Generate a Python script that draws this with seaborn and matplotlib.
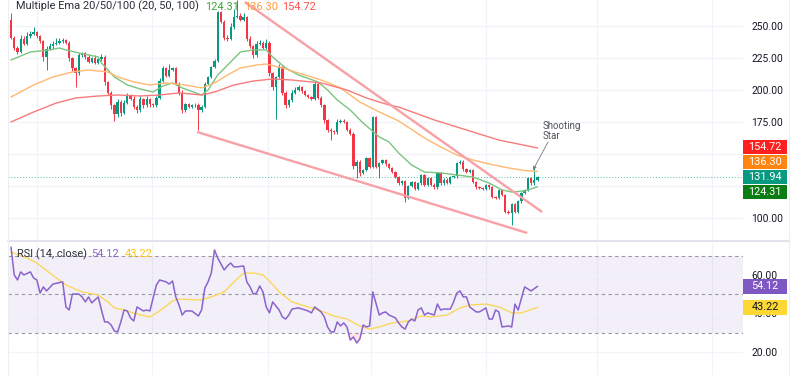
import matplotlib
matplotlib.use("Agg")
import matplotlib.pyplot as plt
from matplotlib.patches import Rectangle
from matplotlib.lines import Line2D
import numpy as np
import pandas as pd
import seaborn as sns

# ---------------- data ----------------
first_open = 255
closes = [
    241, 233, 230, 240, 236, 242, 244, 245, 242, 238,
    226, 232, 234, 236, 237, 238, 239, 237, 225, 217,
    213, 227, 229, 226, 222, 225, 221, 224, 226, 206,
    198, 188, 181, 191, 182, 190, 196, 193, 187, 184,
    193, 188, 193, 189, 188, 194, 207, 217, 211, 216,
    217, 205, 198, 184, 189, 187, 188, 188.5, 184, 187,
    205, 210, 218, 223, 261, 253, 241, 240, 249, 257,
    258, 255, 257, 240, 234, 227, 236, 237, 233, 237,
    213, 202, 210, 218, 198, 188, 192, 198, 200, 202,
    199, 196, 194.5, 193, 205, 194, 188, 176.5, 169, 168,
    167, 175, 176, 175, 169, 166, 141, 144, 135, 137.5,
    147, 140, 179, 140, 143, 145, 142, 139, 136, 132,
    127, 129, 116, 125, 128, 123, 127, 133.6, 126, 131,
    126, 124, 135, 127, 130, 127.5, 132, 132.5, 143, 144,
    138, 136, 137.5, 128, 124, 123.5, 123, 125.5, 124, 116.4,
    116, 122, 118, 105, 104, 111, 104.7, 113, 119.5, 122,
    131, 127, 129.7, 131.94,
]
wick_up = [
    5, 1, 1, 3, 2, 3, 2, 4, 1, 1,
    1, 2, 3, 2, 4, 3, 2, 1, 1, 1,
    1, 2, 1, 1, 2, 1, 2, 1, 2, 1,
    1, 1, 1, 2, 1, 2, 2, 1, 2, 1,
    2, 1, 2, 1, 1, 1, 2, 2, 1, 4,
    1, 1, 1, 2, 1, 1, 1, 1, 1, 1,
    1, 1, 1, 1, 1, 1, 2, 2, 3, 6,
    12, 2, 3, 1, 2, 1, 2, 2, 1, 3,
    1, 1, 1, 2, 1, 1, 1, 2, 2, 2,
    1, 1, 1, 1, 2, 1, 1, 1, 1, 1,
    1, 2, 1, 1, 1, 1, 1, 1, 1, 1,
    1, 1, 1, 1, 1, 1, 1, 1, 1, 1,
    1, 1, 1, 1, 1, 1, 1, 1, 1, 1,
    1, 1, 1, 1, 1, 1, 1, 1, 1, 1,
    1, 1, 1, 1, 1, 1, 1, 1, 1, 1,
    1, 1, 1, 1, 1, 1, 1, 1, 1, 1,
    1, 1, 9.3, 1,
]
wick_dn = [
    1, 2, 2, 1, 1, 1, 1, 1, 1, 1,
    3, 10, 1, 2, 1, 1, 1, 1, 2, 2,
    11, 1, 1, 2, 1, 1, 1, 1, 1, 2,
    2, 3, 5, 2, 2, 1, 1, 1, 2, 2,
    1, 2, 1, 2, 1, 1, 1, 1, 1, 1,
    1, 1, 2, 2, 1, 1, 1, 1, 15, 1,
    1, 1, 1, 1, 1, 1, 2, 2, 1, 1,
    1, 1, 1, 2, 1, 2, 1, 1, 1, 1,
    2, 2, 25, 1, 2, 2, 1, 1, 1, 1,
    1, 1, 1, 1, 1, 1, 1, 2, 2, 7,
    1, 1, 1, 1, 1, 1, 3, 10, 2, 1,
    1, 1, 1, 1, 9, 1, 1, 1, 1, 1,
    1, 1, 3.5, 1, 1, 1, 1, 1, 1, 1,
    1, 1, 1, 1, 1, 1, 1, 1, 1, 1,
    1, 1, 1, 1, 1, 1, 1, 1, 1, 1,
    1, 1, 1, 1, 1, 9.5, 1, 1, 1, 1,
    1, 1, 1, 1,
]

ema20_idx = [0, 6, 12, 15, 17, 21, 27, 28, 32, 36, 40, 44, 47, 50, 53, 59, 61, 64, 68, 71, 75, 79,
             81, 85, 89, 95, 98, 101, 105, 109, 114, 117, 120, 124, 128, 133, 138, 143, 148, 152,
             155, 159, 163]
ema20_val = [223.4, 229.7, 231.3, 232.8, 231.3, 228.9, 225.8, 221.1, 210.2, 203.9, 200.8, 198.4,
             203.1, 205.5, 201.6, 196.1, 200, 211.7, 221.9, 229.7, 231.3, 231.3, 225.8, 217.2,
             211.7, 206.3, 200, 192.2, 184.4, 174.2, 163.3, 159.4, 150.8, 141.4, 135.9, 135.2,
             133.6, 132, 127.3, 121.9, 120.3, 121.1, 124.31]
ema50_idx = [0, 7, 13, 19, 24, 30, 33, 38, 43, 48, 54, 59, 63, 67, 71, 76, 79, 84, 89, 96, 102,
             108, 114, 120, 128, 133, 138, 143, 148, 154, 159, 163]
ema50_val = [194.5, 203.9, 210.2, 214.1, 215.6, 214.1, 210.2, 206.3, 203.9, 205.5, 203.9, 201.6,
             205.5, 211.7, 217.2, 219.5, 220.3, 217.2, 213.3, 207.8, 201.6, 190.6, 182.8, 175.8,
             162.5, 155.5, 149.2, 145.3, 142.2, 139.1, 137.1, 136.3]
ema100_idx = [0, 7, 14, 20, 27, 33, 40, 46, 52, 59, 63, 69, 75, 81, 87, 96, 104, 110, 117, 120,
              131, 136, 141, 151, 163]
ema100_val = [175, 182.8, 189.8, 193.75, 195.3, 196.1, 195.3, 196.1, 197.7, 196.1, 198.4, 203.9,
              207, 208.6, 207.8, 205.5, 200, 193.75, 188.3, 186.7, 176.6, 172.7, 168.75, 160.9,
              154.72]

rsi_idx = [0, 1, 2, 3, 4, 6, 7, 8, 9, 10,
           11, 13, 16, 17, 18, 19, 21, 22, 23, 24,
           25, 27, 28, 29, 30, 31, 32, 33, 34, 35,
           36, 37, 38, 39, 41, 42, 43, 44, 45, 46,
           48, 49, 50, 51, 52, 53, 54, 56, 58, 59,
           60, 61, 62, 63, 64, 66, 67, 68, 69, 70,
           72, 73, 74, 75, 76, 77, 78, 79, 80, 81,
           83, 84, 85, 86, 87, 89, 92, 93, 94, 96,
           97, 98, 99, 100, 101, 102, 103, 104, 105, 106,
           107, 108, 109, 110, 111, 112, 114, 115, 116, 117,
           119, 120, 121, 122, 123, 124, 125, 126, 127, 128,
           129, 131, 132, 133, 134, 136, 137, 138, 139, 140,
           141, 142, 144, 145, 146, 147, 148, 149, 150, 151,
           152, 154, 155, 156, 157, 159, 161, 163]
rsi_val = [74.5, 60, 57.4, 61.6, 60, 61.6, 58.4, 57.4, 50.6, 53.8,
           51.7, 55.3, 56.4, 43.4, 41.8, 50.1, 50.1, 48.6, 46, 48.6,
           45.5, 48.6, 41.8, 35.6, 35.6, 34, 30.9, 30.4, 35.6, 41.8,
           41.3, 37.7, 36.1, 43.4, 41.3, 41.8, 41.3, 48.1, 54.8, 57.4,
           56.4, 55.3, 56.9, 48.6, 44.4, 39.2, 41.3, 41.3, 38.7, 41.8,
           53.2, 56.4, 61, 73, 68.8, 62.6, 64.7, 66.2, 64.2, 64.2,
           64.7, 56.4, 53.8, 50.1, 50.6, 54.3, 51.2, 43.4, 40.3, 46,
           41.8, 38.2, 37.1, 39.2, 42.3, 42.9, 41.3, 40.3, 43.4, 40.8,
           38.2, 33, 30.4, 30.4, 35.6, 33.5, 35.1, 33, 26.2, 27.8,
           24.7, 26.8, 34, 33, 33.5, 51.2, 39.2, 40.3, 40.8, 39.2,
           37.7, 35.1, 33, 31.9, 35.6, 37.1, 36.1, 41.8, 42.9, 39.2,
           40.3, 39.2, 44.9, 41.8, 42.3, 42.3, 46, 50.6, 51.7, 48.6,
           48.6, 43.4, 40.8, 40.8, 41.8, 42.9, 37.1, 37.1, 41.8, 40.8,
           33, 33.5, 33, 44.9, 41.8, 53.8, 51.7, 54.12]
rsima_idx = [0, 5, 8, 12, 17, 22, 27, 30, 32, 35,
             39, 43, 46, 50, 52, 59, 62, 66, 69, 72,
             75, 78, 80, 83, 87, 92, 96, 100, 104, 108,
             111, 114, 118, 123, 127, 130, 135, 139, 142, 147,
             151, 155, 158, 163]
rsima_val = [71.9, 68.8, 66.2, 61, 54.8, 51.2, 49.6, 46, 42.9, 41.8,
             39.7, 38.2, 41.3, 46.5, 47.5, 47, 48.6, 51.2, 56.4, 61,
             61, 60, 56.9, 51.2, 46, 43.4, 41.3, 38.7, 37.1, 33.5,
             31.9, 33, 35.1, 36.1, 38.7, 38.2, 39.2, 42.9, 44.4, 44.9,
             43.4, 40.3, 40.3, 43.22]

upper_trend_idx = [72.4, 164.4]
upper_trend_val = [268.75, 104.7]
lower_trend_idx = [57.6, 159.8]
lower_trend_val = [167.2, 88.3]

month_lines = [8, 43.7, 79.6, 111.5, 147, 181.4, 217]
price_ticks = [250, 225, 200, 175, 100]
price_grid = [250, 225, 200, 175, 150, 125, 100]
rsi_ticks = [60, 40, 20]
rsi_bands = [70, 50, 30]

ema_labels = ["124.31", "136.30", "154.72"]
rsi_labels = ["54.12", "43.22"]

# ---------------- style ----------------
UP, DN = "#089981", "#f23645"
C20, C50, C100 = "#7cc47f", "#ffb870", "#f77b7b"
TXT = "#131722"
GRID = "#f0f3fa"

sns.set_theme(style="white")
plt.rcParams['font.family'] = ['Roboto', 'DejaVu Sans']

W, H, DPI = 800, 380, 100
fig = plt.figure(figsize=(W / DPI, H / DPI), dpi=DPI)
fig.patch.set_facecolor("white")


def fx(px):
    return px / W


def fy(py):
    return 1 - py / H


L, R = 8, 743
ax1 = fig.add_axes([fx(L), fy(240), fx(R) - fx(L), fy(0) - fy(240)])
ax2 = fig.add_axes([fx(L), fy(375), fx(R) - fx(L), fy(243) - fy(375)])
for ax in (ax1, ax2):
    ax.set_facecolor("white")
    for s in ax.spines.values():
        s.set_visible(False)
    ax.set_xlim(-0.93, 226.6)
    ax.set_xticks([])
    ax.yaxis.tick_right()
    ax.tick_params(axis="y", length=0, pad=6, labelsize=7.4, labelcolor=TXT)
    for m in month_lines:
        ax.axvline(m, color=GRID, lw=0.9, zorder=0)

ax1.set_ylim(82.8, 270.3)
ax2.set_ylim(8.05, 76.6)

# ---------- candles ----------
n = len(closes)
opens = [first_open] + closes[:-1]
df = pd.DataFrame({"i": np.arange(n), "open": opens, "close": closes,
                   "wu": wick_up, "wd": wick_dn})
df["top"] = df[["open", "close"]].max(axis=1)
df["bot"] = df[["open", "close"]].min(axis=1)
df["high"] = df["top"] + df["wu"]
df["low"] = df["bot"] - df["wd"]
cols = np.where(df["close"] >= df["open"], UP, DN)

for p in price_grid:
    ax1.axhline(p, color=GRID, lw=0.9, zorder=0)

ax1.vlines(df["i"], df["low"], df["high"], colors=cols, linewidth=0.7, zorder=3)
ax1.bar(df["i"], (df["top"] - df["bot"]).clip(lower=0.5), bottom=df["bot"], width=0.72,
        color=cols, linewidth=0, zorder=4)

sns.lineplot(x=ema20_idx, y=ema20_val, ax=ax1, color=C20, linewidth=1.0, zorder=5)
sns.lineplot(x=ema50_idx, y=ema50_val, ax=ax1, color=C50, linewidth=1.0, zorder=5)
sns.lineplot(x=ema100_idx, y=ema100_val, ax=ax1, color=C100, linewidth=1.0, zorder=5)

ax1.plot(upper_trend_idx, upper_trend_val, color="#f7a1a6", lw=1.7, zorder=6,
         solid_capstyle="butt")
ax1.plot(lower_trend_idx, lower_trend_val, color="#f7a1a6", lw=1.7, zorder=6,
         solid_capstyle="butt")

ax1.axhline(closes[-1], color=UP, lw=0.7, ls=(0, (1, 2)), alpha=0.7, zorder=2)

ax1.set_yticks(price_ticks)
ax1.set_yticklabels([f"{v:.2f}" for v in price_ticks])
ax1.set_ylabel("")

# shooting star annotation
ax1.annotate("", xy=(161.6, 137.5), xytext=(548, H - 142), textcoords="figure pixels",
             arrowprops=dict(arrowstyle="-|>", color="#787b86", lw=0.6,
                             mutation_scale=5, shrinkA=0, shrinkB=0), zorder=7)
fig.text(fx(543), fy(121), "Shooting\nStar", fontsize=7, color="#50535e",
         va="top", ha="left", linespacing=1.05)

# ---------- RSI ----------
ax2.axhspan(rsi_bands[2], rsi_bands[0], color="#7e57c2", alpha=0.09, lw=0, zorder=0)
for g in rsi_ticks:
    ax2.axhline(g, color=GRID, lw=0.9, zorder=0.5)
for b in rsi_bands:
    ax2.axhline(b, color="#9598a1", lw=0.8, ls=(0, (3, 3)), zorder=1)
ri = np.array(rsi_idx, dtype=float)
rv = np.array(rsi_val)
ax2.fill_between(ri, rv, rsi_bands[2], where=rv < rsi_bands[2], interpolate=True,
                 color="#f23645", alpha=0.12, lw=0, zorder=1)
sns.lineplot(x=rsima_idx, y=rsima_val, ax=ax2, color="#fbd75b", linewidth=1.0, zorder=3)
sns.lineplot(x=rsi_idx, y=rsi_val, ax=ax2, color="#8a63cc", linewidth=1.1, zorder=4)
ax2.set_yticks(rsi_ticks)
ax2.set_yticklabels([f"{v:.2f}" for v in rsi_ticks])
ax2.set_ylabel("")

# ---------- panel frame ----------
fig.add_artist(Line2D([fx(L), fx(789)], [fy(241), fy(241)], color="#e0e3eb", lw=1.5))
fig.add_artist(Line2D([fx(789), fx(789)], [fy(0), fy(375)], color="#eceef3", lw=0.8))
fig.add_artist(Line2D([fx(L), fx(L)], [fy(0), fy(375)], color="#eceef3", lw=0.8))

# ---------- legends ----------
LEG_FS = 7.9
fig.text(fx(16), fy(6.5), "Multiple Ema 20/50/100 (20, 50, 100)", fontsize=LEG_FS,
         color="#2a2e39", va="center", ha="left")
for xpx, lab, c in zip([205, 244, 282], ema_labels, ["#3aa53d", "#ff9a3c", "#ff4d4d"]):
    fig.text(fx(xpx), fy(6.5), lab, fontsize=LEG_FS, color=c, va="center", ha="left")
fig.text(fx(17), fy(254), "RSI (14, close)", fontsize=LEG_FS, color="#2a2e39", va="center",
         ha="left")
fig.text(fx(91), fy(254), rsi_labels[0], fontsize=LEG_FS, color="#8a63cc", va="center",
         ha="left")
fig.text(fx(125), fy(254), rsi_labels[1], fontsize=LEG_FS, color="#f5c518", va="center",
         ha="left")

# ---------- right-side value tags ----------
fig.canvas.draw()


def img_y(ax, v):
    return H - ax.transData.transform((0, v))[1]


BOX_H = 14.5
last_y = img_y(ax1, closes[-1])
y50 = min(img_y(ax1, float(ema_labels[1])), last_y - BOX_H - 0.5)
y100 = min(img_y(ax1, float(ema_labels[2])), y50 - BOX_H - 0.5)
y20 = max(img_y(ax1, float(ema_labels[0])), last_y + BOX_H + 0.5)
tags = [
    (y100, ema_labels[2], "#ff1f1f", "white"),
    (y50, ema_labels[1], "#ff8410", "white"),
    (last_y, f"{closes[-1]:.2f}", UP, "white"),
    (y20, ema_labels[0], "#0b7d12", "white"),
    (img_y(ax2, float(rsi_labels[0])), rsi_labels[0], "#7e57c2", "white"),
    (img_y(ax2, float(rsi_labels[1])), rsi_labels[1], "#fdd835", TXT),
]
for yc, lab, bg, fg in tags:
    fig.add_artist(Rectangle((fx(743), fy(yc + BOX_H / 2)), fx(787) - fx(743), BOX_H / H,
                             transform=fig.transFigure, facecolor=bg, edgecolor="none",
                             zorder=10))
    fig.text(fx(765), fy(yc), lab, fontsize=7.8, color=fg, ha="center", va="center",
             zorder=11)

fig.savefig("out.png", dpi=DPI, facecolor="white")
